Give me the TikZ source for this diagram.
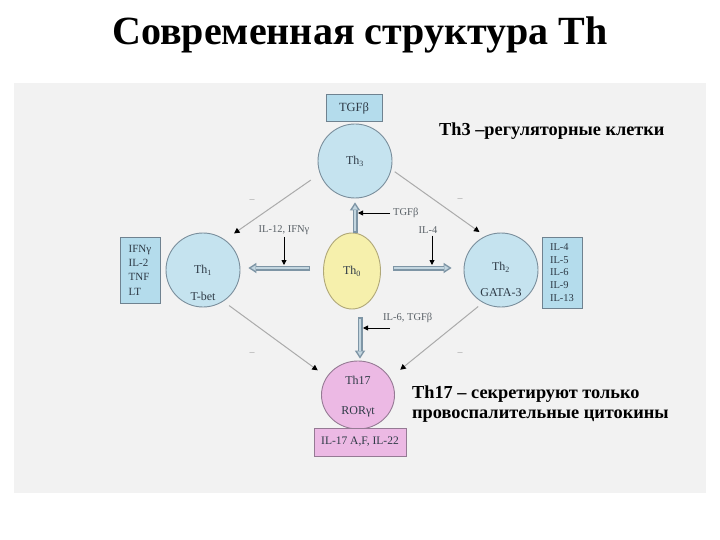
\documentclass[tikz,border=0pt]{standalone}
\usepackage{fontspec}
\setmainfont{Liberation Serif}
\usetikzlibrary{arrows.meta,shapes.geometric}
\definecolor{panel}{HTML}{F2F2F2}
\definecolor{cellblue}{HTML}{C5E3EF}
\definecolor{cellstroke}{HTML}{7A8E9C}
\definecolor{boxblue}{HTML}{B4DCEC}
\definecolor{boxstroke}{HTML}{6F8290}
\definecolor{yell}{HTML}{F6F0AC}
\definecolor{yellstroke}{HTML}{B0A878}
\definecolor{pinkc}{HTML}{ECB9E4}
\definecolor{pinkstroke}{HTML}{957A94}
\definecolor{txt}{HTML}{2E3A46}
\definecolor{lbltxt}{HTML}{5A6167}
\definecolor{thinline}{HTML}{ABABAB}
\definecolor{minusc}{HTML}{9A9A9A}
\definecolor{fatout}{HTML}{7E95A5}
\definecolor{fatin}{HTML}{C3D6E0}
\newcommand\fatconn[4]{%
  \draw[fatouter, shorten <=#3, shorten >=#4] #1 -- #2;
  \draw[fatinner, shorten <=#3+1.2pt, shorten >=#4+2.6pt] #1 -- #2;}
\begin{document}
\begin{tikzpicture}[x=1pt,y=-1pt,
  cell/.style={circle, draw=cellstroke, fill=cellblue, line width=0.9pt, minimum size=74pt, inner sep=0pt, text=txt, font=\fontsize{12}{14}\selectfont},
  lbl/.style={text=txt, font=\fontsize{12}{14}\selectfont, inner sep=0pt},
  small/.style={text=lbltxt, font=\fontsize{10.5}{12}\selectfont, inner sep=0pt},
  cbox/.style={draw=boxstroke, fill=boxblue, line width=0.9pt, inner sep=0pt, text=txt},
  thinarr/.style={draw=thinline, line width=1pt, -{Triangle[length=5.5pt,width=5.5pt,color=black]}},
  blackarr/.style={draw=black, line width=0.9pt, -{Triangle[length=5pt,width=5pt]}},
  fatouter/.style={draw=fatout, line width=5pt, -{Triangle[length=8pt,width=10.5pt,line width=0pt]}},
  fatinner/.style={draw=fatin, line width=2.4pt, -{Triangle[length=4.5pt,width=5.5pt,line width=0pt]}},
  minus/.style={text=minusc, font=\fontsize{10}{12}\selectfont, inner sep=0pt},
  side/.style={font=\bfseries\fontsize{18.3}{20}\selectfont, inner sep=0pt, text=black}]
\useasboundingbox (0,0) rectangle (720,540);
\fill[white] (0,0) rectangle (720,540);
\fill[panel] (14,83) rectangle (706,493);

\node[font=\bfseries\fontsize{40}{44}\selectfont, inner sep=0pt] (title) at (360,35) {Современная структура Th};

% cells
\node[cell] (th3) at (355,161) {Th\textsubscript{3}};
\node[ellipse, draw=yellstroke, fill=yell, line width=0.9pt, minimum width=57pt, minimum height=76pt, inner sep=0pt, text=txt, font=\fontsize{12}{14}\selectfont] (th0) at (352,271) {Th\textsubscript{0}};
\node[cell] (th1) at (203,270) {};
\node[lbl] (th1a) at (203,270) {Th\textsubscript{1}};
\node[lbl] (th1b) at (203,296) {T-bet};
\node[cell] (th2) at (501,270) {};
\node[lbl] (th2a) at (501,267) {Th\textsubscript{2}};
\node[lbl] (th2b) at (501,293) {GATA-3};
\node[ellipse, draw=pinkstroke, fill=pinkc, line width=0.9pt, minimum width=73pt, minimum height=68pt, inner sep=0pt] (th17) at (358,395) {};
\node[lbl] (th17a) at (358,380) {Th17};
\node[lbl] (th17b) at (358,412) {RORγt};

% boxes
\node[cbox, minimum width=56pt, minimum height=27pt, font=\fontsize{12.5}{14}\selectfont] (btgf) at (354,108) {TGFβ};
\node[cbox, minimum width=40pt, minimum height=66pt, align=left, font=\fontsize{11}{14.3}\selectfont] (bl) at (140,270) {IFNγ\\IL-2\\TNF\\LT};
\node[cbox, minimum width=40pt, minimum height=71pt, align=left, font=\fontsize{10.5}{12.7}\selectfont] (br) at (562,272.5) {IL-4\\IL-5\\IL-6\\IL-9\\IL-13};
\node[cbox, draw=pinkstroke, fill=pinkc, minimum width=92pt, minimum height=28pt, font=\fontsize{11.5}{14}\selectfont] (b17) at (360,442) {IL-17 A,F, IL-22};

% thin inhibitory connectors
\draw[thinarr, shorten <=11pt, shorten >=11pt] (th3.200) -- (th1.54);
\draw[thinarr, shorten <=4pt, shorten >=7pt] (th3.347) -- (th2.115);
\draw[thinarr, shorten <=7pt, shorten >=11pt] (th1.-57) -- (th17.150);
\draw[thinarr, shorten <=6pt, shorten >=13pt] (th2.241) -- (th17.28);
\node[minus] (m1) at (252,201) {–};
\node[minus] (m2) at (460,200) {–};
\node[minus] (m3) at (252,354) {–};
\node[minus] (m4) at (460,354) {–};

% fat differentiation arrows
\fatconn{([xshift=3pt]th0.north)}{(th3.south)}{0pt}{4pt}
\fatconn{([yshift=3pt]th0.west)}{([yshift=2pt]th1.east)}{13pt}{8pt}
\fatconn{([yshift=3pt]th0.east)}{([yshift=2pt]th2.west)}{12pt}{12pt}
\fatconn{([xshift=8pt]th0.south)}{([xshift=2pt]th17.north)}{8pt}{2pt}

% cytokine labels
\node[small, anchor=west] (ltgf) at (393,213) {TGFβ};
\coordinate (c1) at (358,213);
\draw[blackarr] ([xshift=-3pt]ltgf.west) -- (c1);
\node[small] (l12) at (284,230) {IL-12, IFNγ};
\coordinate (c2) at (284,265);
\draw[blackarr, shorten <=2pt] (l12.south) -- (c2);
\node[small] (l4) at (428,230) {IL-4};
\coordinate (c3) at (432,265);
\draw[blackarr, shorten <=2pt] ([xshift=4pt]l4.south) -- (c3);
\node[small, anchor=west] (l6) at (383,318) {IL-6, TGFβ};
\coordinate (c4s) at (390,328);
\coordinate (c4) at (363,328);
\draw[blackarr] (c4s) -- (c4);

% side texts
\node[side, anchor=west] (t3) at (439,131) {Th3 –регуляторные клетки};
\node[side, anchor=north west, align=left] (t17) at (412,386) {Th17 – секретируют только\\провоспалительные цитокины};
\end{tikzpicture}
\end{document}
